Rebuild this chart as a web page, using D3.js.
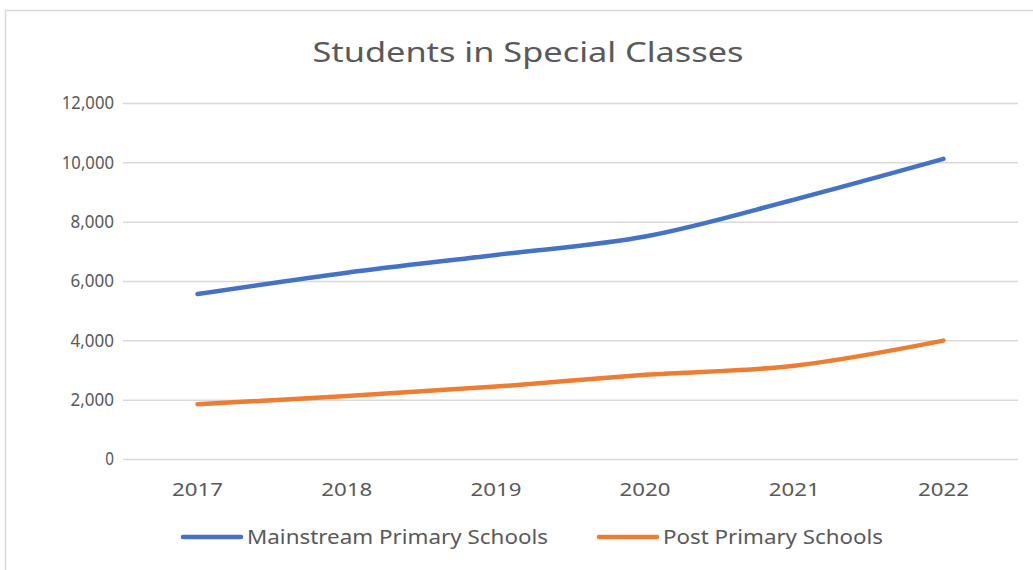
<!DOCTYPE html>
<html>
<head>
<meta charset="utf-8">
<script src="https://cdn.jsdelivr.net/npm/d3@7"></script>
<style>
  body { margin: 0; background: #fff; }
  svg text { font-family: "Noto Sans", sans-serif; fill: #595959; }
</style>
</head>
<body>
<svg id="chart" width="1033" height="570"></svg>
<script>
const years = ["2017", "2018", "2019", "2020", "2021", "2022"]
const mainstream = [5560, 6280, 6880, 7500, 8745, 10115]
const postPrimary = [1845, 2125, 2440, 2836, 3143, 3990]
const yTicks = [0, 2000, 4000, 6000, 8000, 10000, 12000]
const seriesNames = ["Mainstream Primary Schools", "Post Primary Schools"]
const seriesColors = ["#4472c4", "#ed7d31"]

const svg = d3.select("#chart")
const margin = { top: 103, right: 15, bottom: 111, left: 123 }
const width = 1033 - margin.left - margin.right
const height = 570 - margin.top - margin.bottom

// chart frame
svg.append("path")
    .attr("d", "M5.5,570 L5.5,10.5 L1033,10.5")
    .attr("fill", "none")
    .attr("stroke", "#d9d9d9")
    .attr("stroke-width", 1.5)

svg.append("text")
    .attr("x", 528)
    .attr("y", 62)
    .attr("text-anchor", "middle")
    .attr("textLength", 431)
    .attr("lengthAdjust", "spacingAndGlyphs")
    .style("font-size", "27px")
    .text("Students in Special Classes")

const g = svg.append("g").attr("transform", "translate(" + margin.left + "," + margin.top + ")")

const x = d3.scaleBand().domain(years).range([0, width])
const y = d3.scaleLinear().domain([0, 12000]).range([height, 0])

const yAxis = g.append("g")
    .call(d3.axisLeft(y).tickValues(yTicks).tickSize(-width).tickFormat(d3.format(",")))
yAxis.select(".domain").remove()
yAxis.selectAll(".tick line").attr("stroke", "#d9d9d9").attr("stroke-width", 1.5)
yAxis.selectAll(".tick text")
    .attr("x", -9)
    .style("font-size", "18px")
    .each(function () {
        d3.select(this).attr("textLength", this.textContent.length * 8.7).attr("lengthAdjust", "spacingAndGlyphs")
    })

const xAxis = g.append("g")
    .attr("transform", "translate(0," + height + ")")
    .call(d3.axisBottom(x).tickSize(0))
xAxis.select(".domain").remove()
xAxis.selectAll(".tick text")
    .attr("y", 24)
    .style("font-size", "18px")
    .attr("textLength", 51)
    .attr("lengthAdjust", "spacingAndGlyphs")

const line = d3.line()
    .x((d, i) => x(years[i]) + x.bandwidth() / 2)
    .y(d => y(d))
    .curve(d3.curveCatmullRom.alpha(0.5))

;[mainstream, postPrimary].forEach((vals, i) => {
    g.append("path")
        .datum(vals)
        .attr("fill", "none")
        .attr("stroke", seriesColors[i])
        .attr("stroke-width", 4.5)
        .attr("stroke-linecap", "round")
        .attr("stroke-linejoin", "round")
        .attr("d", line)
})

// legend
const legendItems = [
    { x: 181, textLen: 301 },
    { x: 597, textLen: 220 }
]
legendItems.forEach((item, i) => {
    const lg = svg.append("g").attr("transform", "translate(" + item.x + ",537)")
    lg.append("line")
        .attr("x1", 2).attr("x2", 60)
        .attr("stroke", seriesColors[i])
        .attr("stroke-width", 4.5)
        .attr("stroke-linecap", "round")
    lg.append("text")
        .attr("x", 66)
        .attr("y", 7)
        .attr("textLength", item.textLen)
        .attr("lengthAdjust", "spacingAndGlyphs")
        .style("font-size", "19px")
        .text(seriesNames[i])
})
</script>
</body>
</html>
